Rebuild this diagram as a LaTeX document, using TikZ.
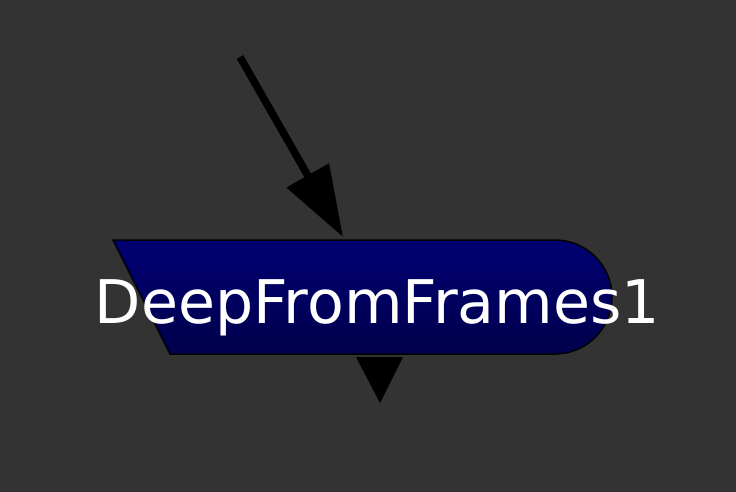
\documentclass[tikz,border=0pt]{standalone}
\usepackage{fontspec}
\setmainfont{DejaVu Sans}
\usetikzlibrary{arrows.meta}
\definecolor{bggrey}{HTML}{333333}
\definecolor{navytop}{HTML}{000072}
\definecolor{navybot}{HTML}{00004C}
\begin{document}
\begin{tikzpicture}[x=1pt,y=-1pt]
            % Background
            \fill[bggrey] (0,0) rectangle (736,492);
            \useasboundingbox (0,0) rectangle (736,492);
            % Node body
            \draw[line width=1.5pt, top color=navytop, bottom color=navybot]
                (113,240) -- (555,240) arc[start angle=-90, end angle=90, radius=57] -- (170,354) -- cycle;
            \node[anchor=base, text=white, inner sep=0pt, font=\fontsize{60.2}{62}\selectfont] (deep) at (377.5,323) {DeepFromFrames1};
            % Input
            \coordinate (src) at (240,57);
            \coordinate (inTip) at (343,237);
            \draw[-{Triangle[length=71pt, width=47pt]}, line width=7.5pt] (src) -- (inTip);
            % Output
            \fill (356,357) -- (403,357) -- (380,403) -- cycle;
        \end{tikzpicture}
\end{document}
